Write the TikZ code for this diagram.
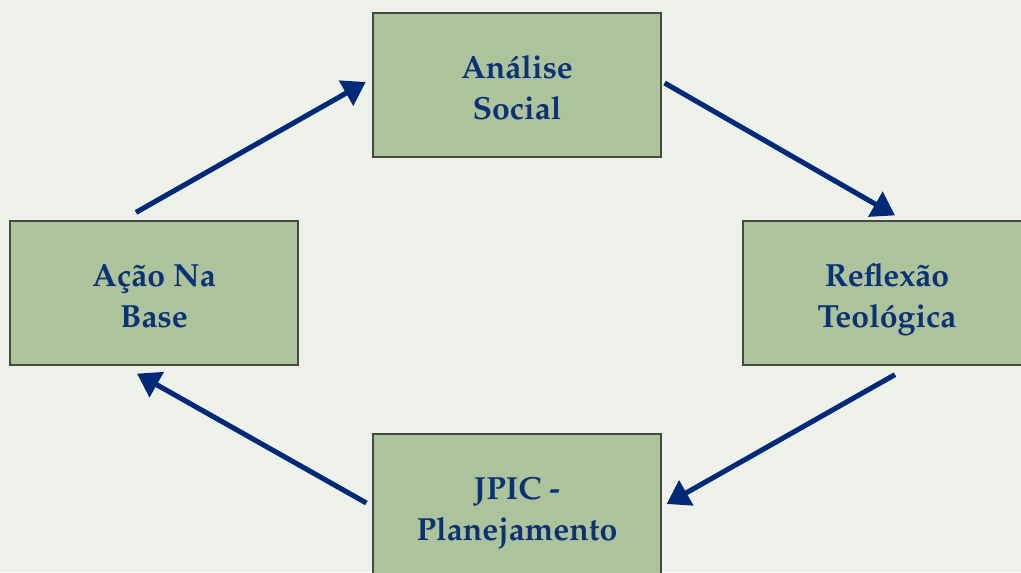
\documentclass[tikz,border=0pt]{standalone}
\usepackage[T1]{fontenc}
\usepackage{mathpazo}
\usetikzlibrary{arrows.meta}
\definecolor{bgc}{HTML}{EEF0EA}
\definecolor{boxfill}{HTML}{ADC39B}
\definecolor{boxline}{HTML}{454A40}
\definecolor{txt}{HTML}{0C3276}
\definecolor{arr}{HTML}{002A78}
\newcommand{\twolines}[2]{\raisebox{-4.5pt}[\height][\depth]{\begin{tabular}{@{}c@{}}#1\\#2\end{tabular}}}
\tikzset{
  stagebox/.style={draw=boxline, line width=0.9pt, fill=boxfill, minimum width=216pt, minimum height=108pt,
    inner sep=0pt, align=center, text=txt, font=\fontsize{24pt}{31pt}\selectfont\bfseries},
  flow/.style={draw=arr, line width=3.8pt, -{Triangle[length=17pt,width=21pt]}}
}
\begin{document}
\begin{tikzpicture}[x=0.75pt,y=-0.75pt]
\useasboundingbox (0,0) rectangle (1021,572);
\fill[bgc] (0,0) rectangle (1021,572);
\clip (0,0) rectangle (1021,572);
\node[stagebox] (analise) at (517,85) {\twolines{Análise}{Social}};
\node[stagebox] (reflexao) at (887,293) {\twolines{Reflexão}{Teológica}};
\node[stagebox] (jpic) at (517,506) {\twolines{JPIC -}{Planejamento}};
\node[stagebox] (acao) at (154,293) {\twolines{Ação Na}{Base}};
\draw[flow] ([xshift=-13.5pt,yshift=6pt]acao.north) -- ([xshift=-5pt,yshift=2.25pt]analise.west);
\draw[flow] ([xshift=2.25pt,yshift=1.5pt]analise.east) -- ([xshift=6pt,yshift=3.75pt]reflexao.north);
\draw[flow] ([xshift=6pt,yshift=-6.75pt]reflexao.south) -- ([xshift=3.75pt,yshift=1.5pt]jpic.east);
\draw[flow] ([xshift=-4.5pt,yshift=2.25pt]jpic.west) -- ([xshift=-12.75pt,yshift=-6pt]acao.south);
\end{tikzpicture}
\end{document}
